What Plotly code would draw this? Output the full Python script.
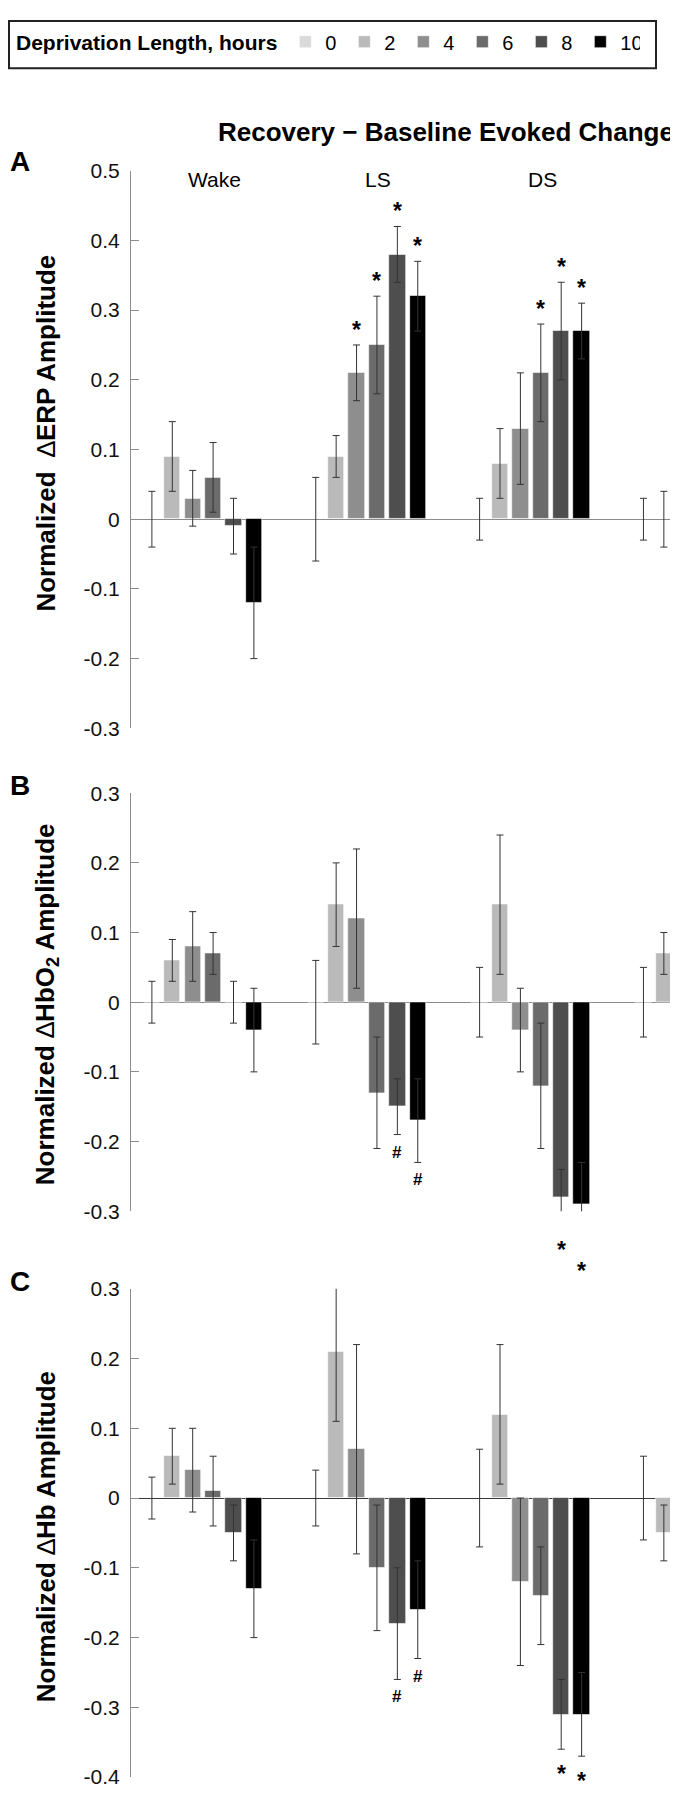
import plotly.graph_objects as go

# ---------------- data ----------------
groups = ["Wake", "LS", "DS", "REM"]
group_labels = ["Wake", "LS", "DS"]          # labels visible in the picture
hours = ["0", "2", "4", "6", "8", "10"]
colors = ["#dadada", "#bababa", "#8e8e8e", "#6b6b6b", "#4e4e4e", "#000000"]

# rows = deprivation length (0..10 h), columns = Wake, LS, DS, REM
erp_mean = [
    [0.00, 0.00, 0.00, 0.00],
    [0.09, 0.09, 0.08, 0.00],
    [0.03, 0.21, 0.13, None],
    [0.06, 0.25, 0.21, None],
    [-0.01, 0.38, 0.27, None],
    [-0.12, 0.32, 0.27, None],
]
erp_err = [
    [0.04, 0.06, 0.03, 0.03],
    [0.05, 0.03, 0.05, 0.04],
    [0.04, 0.04, 0.08, None],
    [0.05, 0.07, 0.07, None],
    [0.04, 0.04, 0.07, None],
    [0.08, 0.05, 0.04, None],
]
erp_sig = [
    ["", "", "", ""],
    ["", "", "", ""],
    ["", "*", "", ""],
    ["", "*", "*", ""],
    ["", "*", "*", ""],
    ["", "*", "*", ""],
]

hbo_mean = [
    [0.00, 0.00, 0.00, 0.00],
    [0.06, 0.14, 0.14, 0.07],
    [0.08, 0.12, -0.04, 0.08],
    [0.07, -0.13, -0.12, None],
    [0.00, -0.15, -0.28, None],
    [-0.04, -0.17, -0.29, None],
]
hbo_err = [
    [0.03, 0.06, 0.05, 0.05],
    [0.03, 0.06, 0.10, 0.03],
    [0.05, 0.10, 0.06, None],
    [0.03, 0.08, 0.09, None],
    [0.03, 0.04, 0.04, None],
    [0.06, 0.06, 0.06, None],
]
hbo_sig = [
    ["", "", "", ""],
    ["", "", "", ""],
    ["", "", "", ""],
    ["", "", "", ""],
    ["", "#", "*", ""],
    ["", "#", "*", ""],
]

hb_mean = [
    [0.00, 0.00, 0.00, 0.00],
    [0.06, 0.21, 0.12, -0.05],
    [0.04, 0.07, -0.12, 0.06],
    [0.01, -0.10, -0.14, None],
    [-0.05, -0.18, -0.31, None],
    [-0.13, -0.16, -0.31, None],
]
hb_err = [
    [0.03, 0.04, 0.07, 0.06],
    [0.04, 0.10, 0.10, 0.04],
    [0.06, 0.15, 0.12, None],
    [0.05, 0.09, 0.07, None],
    [0.04, 0.08, 0.05, None],
    [0.07, 0.07, 0.06, None],
]
hb_sig = [
    ["", "", "", ""],
    ["", "", "", ""],
    ["", "", "", ""],
    ["", "", "", ""],
    ["", "#", "*", ""],
    ["", "#", "*", ""],
]

erp_ticks = [-0.3, -0.2, -0.1, 0, 0.1, 0.2, 0.3, 0.4, 0.5]
hbo_ticks = [-0.3, -0.2, -0.1, 0, 0.1, 0.2, 0.3]
hb_ticks = [-0.4, -0.3, -0.2, -0.1, 0, 0.1, 0.2, 0.3]

# ---------------- layout constants ----------------
OFF = 8                      # page body margin of the written html
W, H = 678, 1789
FONT = "Liberation Sans, Arial, Helvetica, sans-serif"
BAR_STEP = 0.1245
BAR_W = 0.0995
GROUP_PX, GROUP0_PX = 163.85, 202.9 - OFF
X_DOMAIN = [(131 - OFF) / W, 1.0]
X_RANGE = [(131 - OFF - GROUP0_PX) / GROUP_PX, (W - GROUP0_PX) / GROUP_PX]


def py(page_px):
    return 1 - (page_px - OFF) / H


def px_x(page_px):
    return (page_px - OFF) / W


panels = [
    dict(mean=erp_mean, err=erp_err, sig=erp_sig, ticks=erp_ticks,
         dom=[py(725.5), py(160.7)], zc="#8c8c8c",
         title="<b>Normalized</b>  ∆<b>ERP Amplitude</b>", tcy=427,
         letter="A", ly=151),
    dict(mean=hbo_mean, err=hbo_err, sig=hbo_sig, ticks=hbo_ticks,
         dom=[py(1214.7), py(791.3)], zc="#8c8c8c",
         title="<b>Normalized</b> ∆<b>HbO<sub>2</sub> Amplitude</b>", tcy=1005,
         letter="B", ly=783),
    dict(mean=hb_mean, err=hb_err, sig=hb_sig, ticks=hb_ticks,
         dom=[py(1788), py(1293.3)], zc="#3a3a3a",
         title="<b>Normalized</b> ∆<b>Hb Amplitude</b>", tcy=1545,
         letter="C", ly=1286),
]

fig = go.Figure()
annotations = []

for p, pan in enumerate(panels):
    sfx = "" if p == 0 else str(p + 1)
    xa, ya = "x" + sfx, "y" + sfx
    rmin, rmax = min(pan["ticks"]), max(pan["ticks"])
    d0, d1 = pan["dom"]

    def to_paper(v):
        return d0 + (v - rmin) / (rmax - rmin) * (d1 - d0)

    for k, h in enumerate(hours):
        xs = [g + (k - 2.5) * BAR_STEP for g in range(len(groups))]
        fig.add_trace(go.Bar(
            x=xs, y=pan["mean"][k], width=BAR_W, name=h,
            marker=dict(color=colors[k], line=dict(color="white", width=0.6)),
            error_y=dict(type="data", array=pan["err"][k], visible=True,
                         color="#333333", thickness=1, width=3.5),
            showlegend=(p == 0), legendgroup=h,
            xaxis=xa, yaxis=ya, hoverinfo="skip",
        ))
        for g in range(len(groups)):
            s = pan["sig"][k][g]
            if not s:
                continue
            v, e = pan["mean"][k][g], pan["err"][k][g]
            fsize = 23 if s == "*" else 17
            if v >= 0:
                annotations.append(dict(
                    x=xs[g], y=to_paper(v + e), xref=xa, yref="paper",
                    text="<b>%s</b>" % s, showarrow=False,
                    yanchor="bottom", xanchor="center",
                    font=dict(size=fsize, color="black", family=FONT)))
            else:
                annotations.append(dict(
                    x=xs[g], y=to_paper(v - e), xref=xa, yref="paper",
                    text="<b>%s</b>" % s, showarrow=False,
                    yanchor="top", xanchor="center",
                    yshift=-10 if s == "*" else -6,
                    font=dict(size=fsize, color="black", family=FONT)))

    tick_text = ["0" if t == 0 else ("%g" % t) for t in pan["ticks"]]
    fig.layout["xaxis" + sfx] = dict(
        domain=X_DOMAIN, range=X_RANGE, anchor=ya, visible=False,
        showgrid=False, zeroline=False, fixedrange=True)
    fig.layout["yaxis" + sfx] = dict(
        domain=pan["dom"], range=[rmin, rmax],
        anchor=xa, tickvals=pan["ticks"], ticktext=tick_text,
        showline=True, linecolor="#8c8c8c", linewidth=1,
        ticks="inside", ticklen=8, tickcolor="#8c8c8c", tickwidth=1,
        ticklabelstandoff=6,
        tickfont=dict(size=21, color="#111111", family=FONT),
        showgrid=False, zeroline=True, zerolinecolor=pan["zc"], zerolinewidth=1,
        fixedrange=True)

    # y-axis title
    annotations.append(dict(
        x=px_x(46), y=py(pan["tcy"]), xref="paper", yref="paper",
        text=pan["title"], textangle=-90, showarrow=False,
        xanchor="center", yanchor="middle",
        font=dict(size=26, color="black", family=FONT)))
    # panel letter
    annotations.append(dict(
        x=px_x(9), y=py(pan["ly"]), xref="paper", yref="paper",
        text="<b>%s</b>" % pan["letter"], showarrow=False,
        xanchor="left", yanchor="middle", borderpad=0,
        font=dict(size=28, color="black", family=FONT)))

# group labels (panel A)
for g, lab in enumerate(group_labels):
    annotations.append(dict(
        x=g + 0.07, y=0.487, xref="x", yref="y", text=lab, showarrow=False,
        xanchor="center", yanchor="middle",
        font=dict(size=21, color="black", family=FONT)))

# figure title
annotations.append(dict(
    x=px_x(676), y=py(121), xref="paper", yref="paper",
    text="<b>Recovery − Baseline Evoked Change</b>", showarrow=False,
    xanchor="right", yanchor="middle",
    font=dict(size=26, color="black", family=FONT)))

fig.update_layout(
    width=W, height=H, autosize=False,
    margin=dict(l=0, r=0, t=0, b=0),
    paper_bgcolor="white", plot_bgcolor="white",
    barmode="overlay", bargap=0,
    font=dict(family=FONT, color="black"),
    annotations=annotations,
    showlegend=True,
    legend=dict(
        orientation="h", x=px_x(14), xanchor="left", y=py(30), yanchor="middle",
        title=dict(text="<b>Deprivation Length, hours</b>",
                   font=dict(size=21, color="black", family=FONT), side="left"),
        font=dict(size=20, color="black", family=FONT),
        bgcolor="rgba(0,0,0,0)", borderwidth=0,
        entrywidth=14, entrywidthmode="pixels", itemclick=False, itemdoubleclick=False,
        traceorder="normal",
    ),
    shapes=[dict(type="rect", xref="paper", yref="paper",
                 x0=px_x(9), x1=px_x(656), y0=py(57), y1=py(9),
                 line=dict(color="#222222", width=2), fillcolor="rgba(0,0,0,0)")],
)

fig.write_html("out.html")
